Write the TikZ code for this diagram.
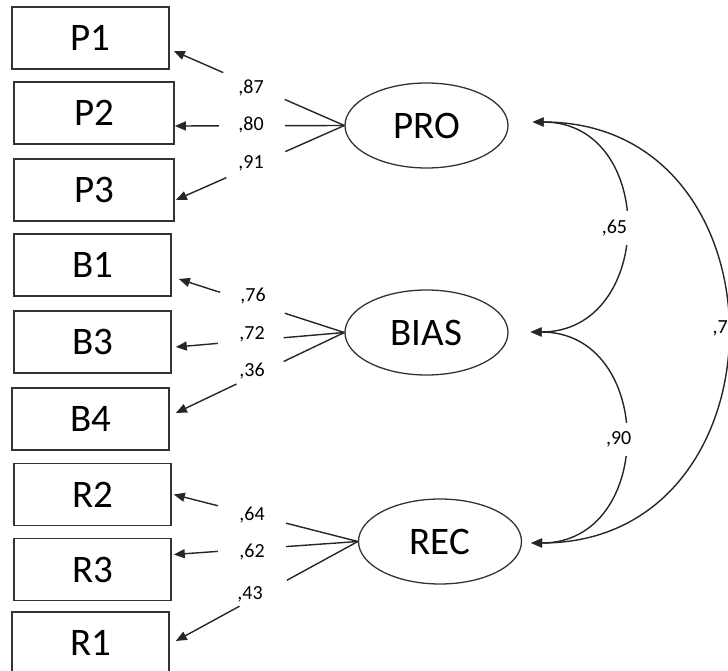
\documentclass[tikz,border=0pt]{standalone}
\usepackage{fontspec}
\setmainfont{Carlito}
\usetikzlibrary{shapes.geometric,arrows.meta,calc}
\begin{document}
\begin{tikzpicture}[x=1pt,y=-1pt,
  box/.style={draw=black!80, line width=1.6pt, rectangle, minimum height=62pt, inner sep=0pt, font=\fontsize{39}{44}\selectfont},
  latent/.style={draw=black!80, line width=1.3pt, ellipse, minimum width=163pt, minimum height=85pt, inner sep=0pt, font=\fontsize{39}{44}\selectfont},
  ld/.style={draw=black!85, line width=1.4pt},
  ldarr/.style={ld, -{Triangle[length=11pt,width=9pt]}},
  cov/.style={ld, {Triangle[length=11pt,width=9pt]}-{Triangle[length=11pt,width=9pt]}},
  lbl/.style={font=\fontsize{20}{24}\selectfont, inner sep=0pt},
  gaplbl/.style={lbl, fill=white, inner xsep=4pt, inner ysep=9pt},
]
\useasboundingbox (0,0) rectangle (728,671);

% observed indicators
\node[box, minimum width=157pt] (P1) at (90.5,38) {P1};
\node[box, minimum width=160pt] (P2) at (94,113) {P2};
\node[box, minimum width=160pt] (P3) at (94,190) {P3};
\node[box, minimum width=157pt] (B1) at (92.5,265) {B1};
\node[box, minimum width=157pt] (B3) at (92.5,342) {B3};
\node[box, minimum width=157pt] (B4) at (90.5,419) {B4};
\node[box, minimum width=157pt] (R2) at (92.5,494.5) {R2};
\node[box, minimum width=157pt] (R3) at (92.5,569.5) {R3};
\node[box, minimum width=157pt] (R1) at (90.5,643) {R1};

% latent variables
\node[latent] (PRO) at (426.5,125.5) {PRO};
\node[latent] (BIAS) at (426.5,332.5) {BIAS};
\node[latent] (REC) at (440,541.5) {REC};

% loadings
\foreach \lat/\ind/\dx/\dy/\s/\e in {
  PRO/P1/4/13/0.35/0.71, PRO/P2/0/13/0.35/0.74, PRO/P3/1/10/0.35/0.70,
  BIAS/B1/7/14/0.36/0.75, BIAS/B3/4/5/0.36/0.75, BIAS/B4/6/-6/0.36/0.64,
  REC/R2/2/0/0.39/0.76, REC/R3/2/-15/0.39/0.76, REC/R1/6/-2/0.39/0.65}{
  \coordinate (t\ind) at ($(\ind.east)+(\dx,\dy)$);
  \path (\lat.west) -- (t\ind) coordinate[pos=\s] (a\ind) coordinate[pos=\e] (b\ind);
  \draw[ld] (\lat.west) -- (a\ind);
  \draw[ldarr] (b\ind) -- (t\ind);
}

% loading labels
\node[lbl] (l87) at (251,88) {,87};
\node[lbl] (l80) at (251,125) {,80};
\node[lbl] (l91) at (251,163) {,91};
\node[lbl] (l76) at (253,296) {,76};
\node[lbl] (l72) at (252,334) {,72};
\node[lbl] (l36) at (252,371) {,36};
\node[lbl] (l64) at (252,515) {,64};
\node[lbl] (l62) at (252,552) {,62};
\node[lbl] (l43) at (250,594) {,43};

% covariances
\coordinate (cPRO) at ($(PRO.east)+(24,-3.5)$);
\coordinate (cBIAS) at ($(BIAS.east)+(22,-0.5)$);
\coordinate (cREC) at ($(REC.east)+(9,1.5)$);

\draw[cov] (cPRO) .. controls +(125,0) and +(125,0) .. (cBIAS)
  node[gaplbl, pos=0.5, xshift=-11pt, yshift=-1pt] (l65) {,65};
\draw[cov] (cBIAS) .. controls +(125,0) and +(125,0) .. (cREC)
  node[gaplbl, pos=0.5, xshift=-6pt, yshift=-2pt] (l90) {,90};
\draw[cov] (cPRO) .. controls +(260,0) and +(260,0) .. (cREC)
  node[gaplbl, pos=0.5, anchor=west, xshift=-16pt, yshift=4pt, text width=28pt, align=left, inner xsep=1pt, inner ysep=7pt] (l7) {,7};
\end{tikzpicture}
\end{document}
